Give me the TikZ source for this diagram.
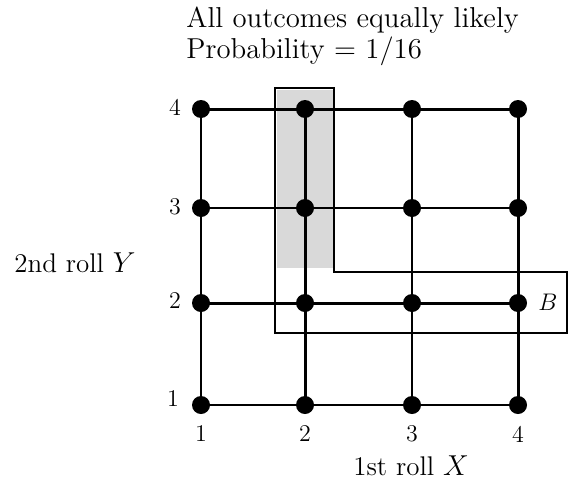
\documentclass[tikz,border=0pt]{standalone}
\begin{document}
\begin{tikzpicture}[x=0.5pt,y=-0.5pt,
  dot/.style={circle,fill=black,inner sep=0pt,minimum size=9pt},
  gline/.style={line width=0.8pt},
  bline/.style={line width=1.5pt},
  lbl/.style={font=\fontsize{12}{14}\selectfont,inner sep=1pt},
  txt/.style={font=\fontsize{13.5}{16}\selectfont,inner sep=0pt,anchor=west},
  ttl/.style={font=\fontsize{14.4}{17}\selectfont,inner sep=0pt,anchor=west},
  outl/.style={line width=0.9pt}]
\useasboundingbox (0,0) rectangle (577,482);
% shaded strip
\fill[gray!30] (277,90) rectangle (333,268);
% grid points
\foreach \i/\x in {1/201,2/305,3/412,4/518}{
  \foreach \j/\y in {1/405,2/303,3/208,4/109}{
    \coordinate (p\i\j) at (\x,\y);
  }
}
% grid lines
\draw[gline] (p11) -- (p41);
\draw[bline] (p12) -- (p42);
\draw[gline] (p13) -- (p43);
\draw[bline] (p14) -- (p44);
\draw[gline] (p11) -- (p14);
\draw[bline] (p21) -- (p24);
\draw[gline] (p31) -- (p34);
\draw[bline] (p41) -- (p44);
% dots
\foreach \i in {1,...,4}{
  \foreach \j in {1,...,4}{
    \node[dot] (d\i\j) at (p\i\j) {};
  }
}
% L-shaped outline
\draw[outl] (275,88) -- (334,88) -- (334,272) -- (567,272) -- (567,333) -- (275,333) -- cycle;
\node[lbl] (B) at (548,302) {$B$};
% axis labels
\node[lbl] (y4) at (175,107) {4};
\node[lbl] (y3) at (175,207) {3};
\node[lbl] (y2) at (175,301) {2};
\node[lbl] (y1) at (173,399) {1};
\node[lbl] (x1) at (201,434) {1};
\node[lbl] (x2) at (305,434) {2};
\node[lbl] (x3) at (412,434) {3};
\node[lbl] (x4) at (518,434) {4};
\node[txt,anchor=center] (xl) at (411,466) {1st roll $X$};
\node[txt,anchor=center] (yl) at (75,263) {2nd roll $Y$};
\node[ttl] (t1) at (186,20) {All outcomes equally likely};
\node[ttl] (t2) at (186,51) {Probability = 1/16};
\end{tikzpicture}
\end{document}
